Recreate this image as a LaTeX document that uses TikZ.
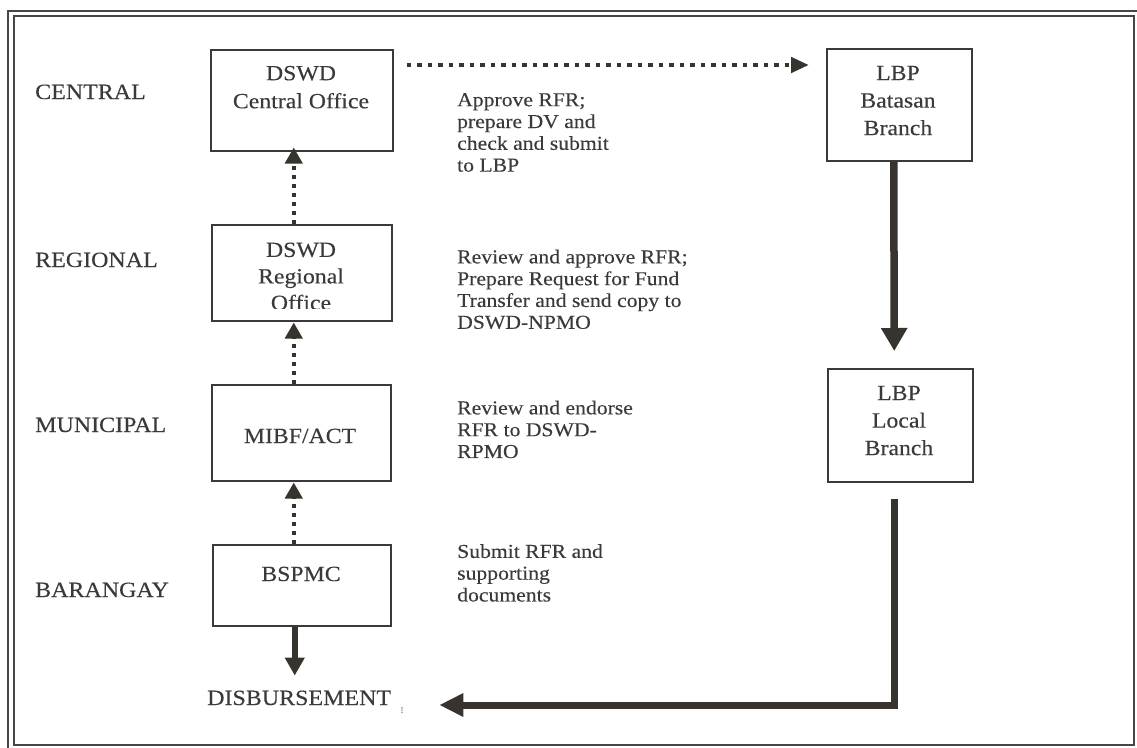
\documentclass[tikz,border=0pt]{standalone}
\usepackage{fontspec}
\setmainfont{Liberation Serif}[FakeStretch=1.1,FakeBold=0.25]
\usetikzlibrary{arrows.meta,calc}
\definecolor{ink}{RGB}{58,58,58}
\definecolor{arr}{RGB}{55,52,48}
\definecolor{framec}{RGB}{70,70,70}
\begin{document}
\begin{tikzpicture}[x=1pt,y=-1pt,
  every node/.style={text=ink, inner sep=0pt},
  frame/.style={draw=framec, line width=2pt},
  box/.style={draw=ink, line width=1.5pt, rectangle, inner sep=0pt, anchor=north west},
  lbl/.style={font=\fontsize{21.8}{24}\selectfont, anchor=base west},
  boxtext/.style={font=\fontsize{21.6}{#1}\selectfont, align=center, anchor=north},
  boxtext/.default=28,
  onetext/.style={font=\fontsize{21.6}{24}\selectfont, anchor=base},
  desc/.style={font=\fontsize{19.7}{21.8}\selectfont, align=left, anchor=north west},
  doth/.style={draw=arr, line width=4.5pt, dash pattern=on 4.5pt off 6pt,
    -{Triangle[length=18pt,width=15pt]}},
  dotv/.style={draw=arr, line width=4.5pt, dash pattern=on 4pt off 5pt,
    -{Triangle[length=16pt,width=17pt]}},
  solidsmall/.style={draw=arr, line width=6.5pt, -{Triangle[length=18pt,width=19pt]}},
  solidbig/.style={draw=arr, line width=7.5pt, line join=miter, -{Triangle[length=23pt,width=25pt]}}
]
\useasboundingbox (0,0) rectangle (1137,747);
% double frame
\draw[frame] (8.3,11) rectangle (1140,751);
\draw[frame] (13.7,16) rectangle (1134.3,745);

% boxes
\node[box, minimum width=182pt, minimum height=101pt] (cen) at (210,49) {};
\node[box, minimum width=180pt, minimum height=96pt] (reg) at (211,224) {};
\node[box, minimum width=179pt, minimum height=96pt] (mun) at (211,384) {};
\node[box, minimum width=178pt, minimum height=81pt] (bar) at (212,544) {};
\node[box, minimum width=145pt, minimum height=112pt] (bat) at (826,48) {};
\node[box, minimum width=145pt, minimum height=113pt] (loc) at (827,368) {};

% box texts
\node[boxtext] (cent) at (301,65.7) {DSWD\\Central Office};
\node[boxtext=26.5] (regt) at (301,242.4) {DSWD\\Regional\\Office};
\fill[white] (213,308.5) rectangle (389,318.8);
\node[onetext] (munt) at (300,443) {MIBF/ACT};
\node[onetext] (bart) at (301,581) {BSPMC};
\node[boxtext=27.5] (batt) at (898,65.7) {LBP\\Batasan\\Branch};
\node[boxtext=27.5] (loct) at (899,385.7) {LBP\\Local\\Branch};

% level labels
\node[lbl] (lc) at (35,99) {CENTRAL};
\node[lbl] (lr) at (35,267) {REGIONAL};
\node[lbl] (lm) at (35,432) {MUNICIPAL};
\node[lbl] (lb) at (35,597) {BARANGAY};
\node[lbl] (disb) at (207,705) {DISBURSEMENT};
\node[font=\fontsize{9}{9}\selectfont, text=ink!60, anchor=base] (mark) at (402,713) {!};

% descriptions
\node[desc] (d1) at (457,93) {Approve RFR;\\prepare DV and\\check and submit\\to LBP};
\node[desc] (d2) at (457,249.5) {Review and approve RFR;\\Prepare Request for Fund\\Transfer and send copy to\\DSWD-NPMO};
\node[desc] (d3) at (457,400.5) {Review and endorse\\RFR to DSWD-\\RPMO};
\node[desc] (d4) at (457,544) {Submit RFR and\\supporting\\documents};

% connectors
\draw[doth] ($(cen.north east)+(13,16)$) -- ($(bat.north west)+(-17,17)$);
\draw[dotv] ($(reg.north)+(-8,0)$) -- ($(cen.south)+(-8,-4)$);
\draw[dotv] ($(mun.north)+(-7.5,0)$) -- ($(reg.south)+(-8,1)$);
\draw[dotv] ($(bar.north)+(-8,0)$) -- ($(mun.south)+(-7.5,1)$);
\draw[solidsmall] ($(bar.south)+(-7,0)$) -- ($(bar.south)+(-7,49)$);
\draw[solidbig] ($(bat.south)+(-5.5,0)$) -- ($(loc.north)+(-6,-17)$);
\coordinate (dend) at ($(disb.base east)+(48,0)$);
\draw[draw=arr, line width=7pt, line join=miter, -{Triangle[length=24pt,width=22pt]}]
  ($(loc.south)+(-5.5,16)$) |- (dend);
\end{tikzpicture}
\end{document}
